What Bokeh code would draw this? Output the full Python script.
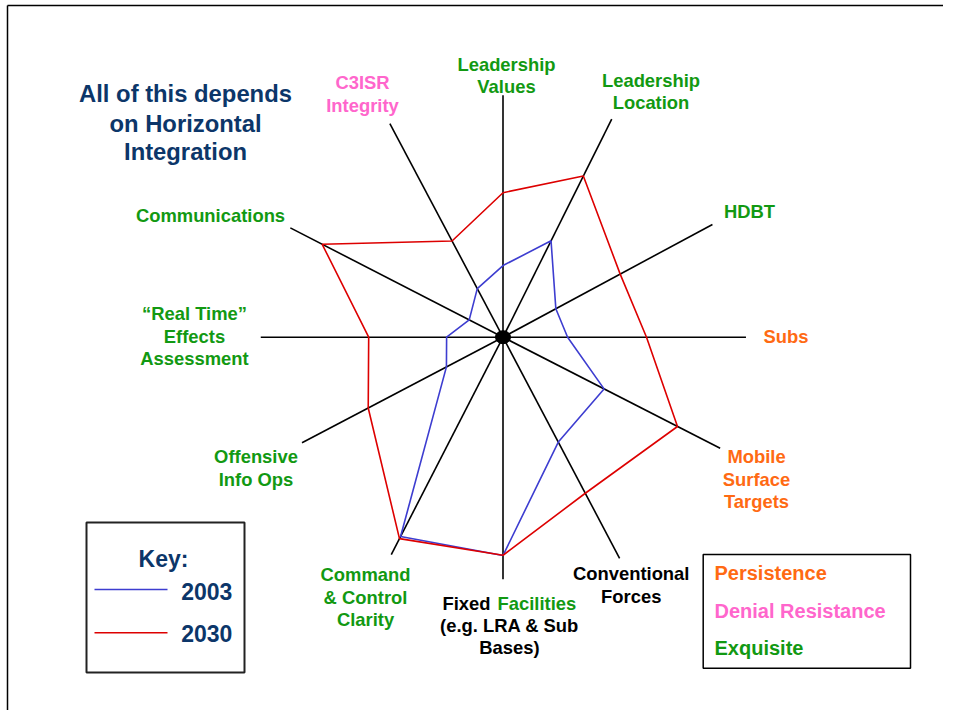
import math
from bokeh.plotting import figure
from bokeh.models import Range1d, ColumnDataSource
from bokeh.core.properties import value
from bokeh.embed import file_html
from bokeh.resources import INLINE

# ---------------- data ----------------
categories = ["Leadership\nValues", "Leadership\nLocation", "HDBT", "Subs",
              "Mobile\nSurface\nTargets", "Conventional\nForces",
              "Fixed Facilities\n(e.g. LRA & Sub\nBases)", "Command\n& Control\nClarity",
              "Offensive\nInfo Ops", "\u201cReal Time\u201d\nEffects\nAssessment",
              "Communications", "C3ISR\nIntegrity"]
groups = ["Exquisite", "Exquisite", "Exquisite", "Persistence", "Persistence", "None",
          "Mixed", "Exquisite", "Exquisite", "Exquisite", "Exquisite", "Denial Resistance"]
values_2003 = [2.96, 4.45, 2.48, 2.67, 4.69, 4.90, 9.02, 9.26, 2.64, 2.33, 1.57, 2.27]
values_2030 = [5.97, 7.44, 5.50, 5.93, 8.10, 7.29, 9.01, 9.36, 6.29, 5.55, 8.40, 4.50]
series_names = ["2003", "2030"]
key_groups = ["Persistence", "Denial Resistance", "Exquisite"]
title_lines = ["All of this depends", "on Horizontal", "Integration"]

# ---------------- layout ----------------
CX, CY, SCALE = 502.5, 336.7, 24.2
angles = [90, 63.5, 28.3, 0, -27.1, -62.2, -90, -117.2, -152.3, 180, 152.8, 117.9]
axis_len = [10.0, 10.07, 9.83, 10.04, 10.08, 10.33, 10.0, 10.1, 9.38, 10.01, 9.88, 9.99]
label_anchor = [(506, 70.7), (650.5, 86.7), (749, 217.7), (785.5, 342.3), (756, 463),
                (630.7, 580), (509, 609.3), (365, 581), (255.5, 463), (194, 320),
                (210, 222), (362, 89)]
LINE_SP = 22.4
GREEN = "#129912"
ORANGE = "#ff6a13"
PINK = "#ff66cc"
NAVY = "#0c3669"
RED = "#dd0000"
BLUE = "#3d3dd0"
group_color = {"Exquisite": GREEN, "Persistence": ORANGE, "Denial Resistance": PINK,
               "None": "black", "Mixed": "black"}
FONT = value("Liberation Sans")
SHIFT = 0.36  # baseline correction, in em


def polar(r, a):
    t = math.radians(a)
    return CX + r * SCALE * math.cos(t), CY - r * SCALE * math.sin(t)


p = figure(width=943, height=710, x_range=Range1d(0, 943), y_range=Range1d(710, 0),
           output_backend="svg", toolbar_location=None, min_border=0)
p.axis.visible = False
p.grid.visible = False
p.outline_line_color = None
p.background_fill_color = "white"

# frame (top and left edges)
p.segment(x0=[7, 7], y0=[5, 5], x1=[943, 7], y1=[5, 710], line_color="black", line_width=1.5)

# radar axes
ends = [polar(L, a) for L, a in zip(axis_len, angles)]
p.segment(x0=[CX] * len(ends), y0=[CY] * len(ends), x1=[e[0] for e in ends],
          y1=[e[1] for e in ends], line_color="black", line_width=1.6)

# series
for vals, col in ((values_2003, BLUE), (values_2030, RED)):
    pts = [polar(v, a) for v, a in zip(vals, angles)]
    pts.append(pts[0])
    p.line([q[0] for q in pts], [q[1] for q in pts], line_color=col, line_width=1.6)

p.ellipse(x=[CX], y=[CY], width=15, height=13, fill_color="black", line_color="black")

# axis labels
LFS = 18.4
src = {"left": dict(x=[], y=[], t=[], c=[]), "center": dict(x=[], y=[], t=[], c=[]),
       "right": dict(x=[], y=[], t=[], c=[])}


def add(al, x, y, t, c):
    d = src[al]
    d["x"].append(x); d["y"].append(y - SHIFT * LFS); d["t"].append(t); d["c"].append(c)


for cat, g, (ax, ay) in zip(categories, groups, label_anchor):
    lines = cat.split("\n")
    for i, ln in enumerate(lines):
        y = ay + i * LINE_SP
        if g == "Mixed" and i == 0:
            w1, w2 = ln.split(" ")
            add("right", ax - 19, y, w1, "black")
            add("left", ax - 12, y, w2, GREEN)
        else:
            add("center", ax, y, ln, group_color[g])

for al, d in src.items():
    if d["x"]:
        p.text(x="x", y="y", text="t", text_color="c", source=ColumnDataSource(d),
               text_align=al, text_baseline="alphabetic", text_font=FONT,
               text_font_style="bold", text_font_size=f"{LFS}px")

# title
TFS = 23.8
p.text(x=[185] * 3, y=[v - SHIFT * TFS for v in (101.7, 131.7, 160)], text=title_lines,
       text_align="center", text_baseline="alphabetic", text_font=FONT,
       text_font_style="bold", text_font_size=f"{TFS}px", text_color=NAVY)

# key box (series)
KFS = 23
p.quad(left=[86], right=[244], top=[522], bottom=[672], fill_color=None,
       line_color="#222222", line_width=2)
p.text(x=[163], y=[566.7 - SHIFT * KFS], text=["Key:"], text_align="center",
       text_baseline="alphabetic", text_font=FONT, text_font_style="bold",
       text_font_size=f"{KFS}px", text_color=NAVY)
p.segment(x0=[94], y0=[589], x1=[167], y1=[589], line_color=BLUE, line_width=1.6)
p.segment(x0=[94], y0=[632.3], x1=[167], y1=[632.3], line_color=RED, line_width=1.6)
p.text(x=[180.7, 180.7], y=[v - SHIFT * KFS for v in (599.3, 641.7)], text=series_names,
       text_align="left", text_baseline="alphabetic", text_font=FONT,
       text_font_style="bold", text_font_size=f"{KFS}px", text_color=NAVY)

# group key box
GFS = 20
p.quad(left=[702.7], right=[910], top=[554], bottom=[667.7], fill_color=None,
       line_color="black", line_width=1.5)
p.text(x=[714] * 3, y=[v - SHIFT * GFS for v in (579.3, 617.3, 655)], text=key_groups,
       text_color=[group_color[k] for k in key_groups], text_align="left",
       text_baseline="alphabetic", text_font=FONT, text_font_style="bold",
       text_font_size=f"{GFS}px")

open("out.html", "w").write(file_html(p, INLINE))
